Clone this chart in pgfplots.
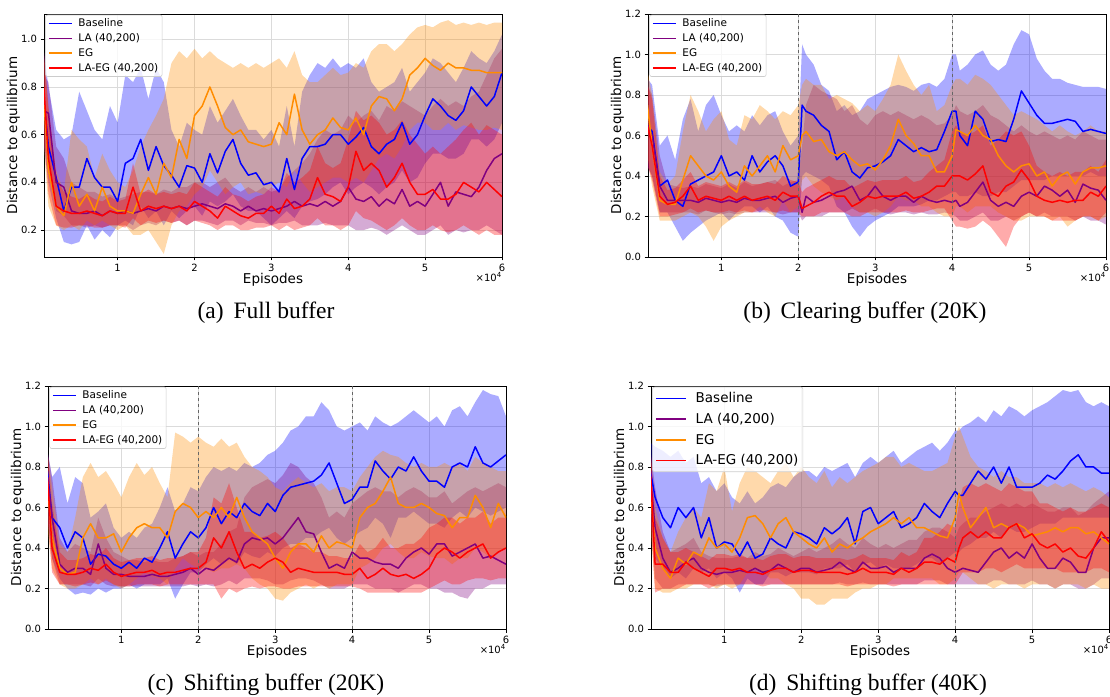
\documentclass[border=0pt]{standalone}
\usepackage{pgfplots}
\pgfplotsset{compat=1.18}
\usepackage{pgfplotstable}
\usepgfplotslibrary{fillbetween}
\usepackage{fontspec}
\setmainfont{DejaVu Sans}
\newfontfamily\capfont{Liberation Serif}
\definecolor{cB}{RGB}{0,0,255}
\definecolor{cL}{RGB}{128,0,128}
\definecolor{cE}{RGB}{255,140,0}
\definecolor{cR}{RGB}{255,0,0}

\pgfplotstableread{
x b bl bh l ll lh e el eh r rl rh
0.04 0.75 0.55 0.95 0.70 0.55 0.85 0.75 0.55 0.95 0.80 0.60 0.95
0.1 0.55 0.40 0.80 0.69 0.50 0.82 0.45 0.30 0.70 0.50 0.35 0.72
0.2 0.42 0.25 0.62 0.40 0.28 0.55 0.30 0.22 0.45 0.30 0.22 0.42
0.3 0.28 0.15 0.58 0.38 0.26 0.50 0.26 0.20 0.36 0.28 0.21 0.36
0.4 0.38 0.14 0.60 0.28 0.22 0.40 0.40 0.22 0.62 0.27 0.21 0.34
0.5 0.38 0.15 0.78 0.27 0.22 0.38 0.30 0.20 0.58 0.27 0.22 0.33
0.6 0.50 0.22 0.70 0.27 0.21 0.36 0.35 0.24 0.55 0.28 0.22 0.35
0.7 0.42 0.16 0.62 0.28 0.22 0.36 0.28 0.22 0.42 0.27 0.21 0.33
0.8 0.38 0.20 0.58 0.26 0.21 0.34 0.38 0.24 0.52 0.26 0.21 0.32
0.9 0.38 0.17 0.72 0.28 0.22 0.35 0.30 0.22 0.45 0.28 0.22 0.34
1.0 0.32 0.22 0.65 0.27 0.22 0.33 0.28 0.20 0.40 0.27 0.22 0.32
1.1 0.48 0.24 0.85 0.28 0.22 0.34 0.28 0.22 0.38 0.27 0.21 0.33
1.2 0.50 0.22 0.82 0.27 0.20 0.35 0.27 0.18 0.45 0.38 0.25 0.48
1.3 0.58 0.30 0.88 0.28 0.22 0.36 0.35 0.18 0.55 0.28 0.22 0.35
1.4 0.45 0.25 0.75 0.29 0.23 0.36 0.42 0.20 0.62 0.30 0.24 0.37
1.5 0.55 0.28 0.88 0.28 0.22 0.35 0.35 0.15 0.68 0.29 0.23 0.35
1.6 0.47 0.22 0.82 0.30 0.24 0.37 0.48 0.10 0.75 0.30 0.24 0.36
1.7 0.43 0.28 0.62 0.29 0.23 0.36 0.42 0.22 0.90 0.29 0.23 0.35
1.8 0.38 0.25 0.55 0.30 0.24 0.38 0.58 0.28 0.95 0.30 0.24 0.36
1.9 0.47 0.28 0.65 0.29 0.22 0.38 0.50 0.30 0.92 0.28 0.22 0.35
2.0 0.46 0.30 0.62 0.30 0.24 0.40 0.68 0.35 0.96 0.32 0.24 0.40
2.1 0.40 0.26 0.60 0.31 0.24 0.40 0.72 0.38 0.92 0.30 0.23 0.38
2.2 0.52 0.32 0.72 0.30 0.23 0.38 0.80 0.45 0.95 0.28 0.22 0.36
2.3 0.44 0.30 0.65 0.29 0.22 0.40 0.72 0.40 0.92 0.25 0.20 0.34
2.4 0.53 0.32 0.70 0.31 0.24 0.42 0.63 0.35 0.90 0.30 0.22 0.38
2.5 0.58 0.35 0.75 0.30 0.24 0.38 0.60 0.38 0.88 0.28 0.22 0.35
2.6 0.48 0.30 0.68 0.28 0.22 0.36 0.62 0.40 0.90 0.26 0.20 0.34
2.7 0.43 0.28 0.62 0.30 0.24 0.38 0.57 0.35 0.88 0.25 0.20 0.32
2.8 0.44 0.28 0.62 0.28 0.23 0.36 0.56 0.36 0.90 0.27 0.21 0.34
2.9 0.39 0.25 0.58 0.29 0.23 0.38 0.55 0.35 0.88 0.27 0.21 0.35
3.0 0.40 0.22 0.62 0.28 0.22 0.36 0.56 0.38 0.90 0.30 0.22 0.38
3.1 0.36 0.25 0.55 0.29 0.23 0.37 0.65 0.40 0.92 0.27 0.20 0.36
3.2 0.50 0.28 0.72 0.30 0.23 0.42 0.60 0.38 0.88 0.33 0.22 0.44
3.3 0.37 0.25 0.55 0.32 0.24 0.45 0.77 0.45 0.95 0.29 0.20 0.40
3.4 0.50 0.30 0.78 0.30 0.22 0.48 0.62 0.40 0.85 0.30 0.21 0.42
3.5 0.55 0.32 0.85 0.31 0.22 0.52 0.56 0.36 0.82 0.33 0.22 0.45
3.6 0.55 0.33 0.90 0.30 0.22 0.58 0.60 0.38 0.82 0.42 0.25 0.55
3.7 0.56 0.35 0.88 0.32 0.23 0.62 0.62 0.40 0.85 0.35 0.22 0.48
3.8 0.60 0.38 0.92 0.30 0.22 0.60 0.67 0.42 0.88 0.34 0.22 0.46
3.9 0.60 0.40 0.88 0.32 0.22 0.62 0.63 0.42 0.85 0.32 0.20 0.48
4.0 0.56 0.35 0.90 0.38 0.22 0.68 0.62 0.40 0.86 0.38 0.22 0.58
4.1 0.59 0.38 0.88 0.33 0.20 0.65 0.67 0.42 0.90 0.53 0.28 0.70
4.2 0.63 0.40 0.92 0.32 0.20 0.68 0.60 0.40 0.88 0.45 0.25 0.66
4.3 0.55 0.38 0.82 0.34 0.21 0.70 0.72 0.45 0.95 0.48 0.24 0.68
4.4 0.52 0.35 0.78 0.30 0.20 0.66 0.76 0.50 0.98 0.45 0.22 0.65
4.5 0.56 0.38 0.80 0.33 0.18 0.72 0.75 0.52 0.98 0.38 0.20 0.60
4.6 0.58 0.40 0.82 0.31 0.20 0.70 0.70 0.50 0.95 0.42 0.22 0.62
4.7 0.65 0.45 0.88 0.37 0.22 0.74 0.75 0.55 0.98 0.48 0.25 0.66
4.8 0.56 0.40 0.78 0.30 0.20 0.72 0.85 0.62 1.02 0.40 0.22 0.60
4.9 0.60 0.42 0.82 0.32 0.18 0.70 0.88 0.65 1.05 0.35 0.20 0.56
5.0 0.68 0.48 0.86 0.30 0.18 0.68 0.92 0.65 1.06 0.35 0.20 0.52
5.1 0.75 0.52 0.92 0.35 0.20 0.72 0.89 0.62 1.05 0.37 0.22 0.55
5.2 0.72 0.52 0.90 0.40 0.22 0.75 0.87 0.62 1.07 0.33 0.20 0.52
5.3 0.68 0.50 0.86 0.30 0.18 0.72 0.90 0.65 1.08 0.33 0.19 0.55
5.4 0.66 0.50 0.82 0.36 0.20 0.74 0.88 0.62 1.06 0.35 0.20 0.58
5.5 0.70 0.52 0.88 0.35 0.19 0.72 0.88 0.64 1.07 0.40 0.22 0.62
5.6 0.80 0.58 0.95 0.34 0.20 0.76 0.87 0.63 1.06 0.38 0.20 0.65
5.7 0.76 0.58 0.92 0.38 0.20 0.78 0.87 0.62 1.07 0.36 0.18 0.60
5.8 0.72 0.55 0.90 0.45 0.22 0.85 0.86 0.62 1.06 0.40 0.20 0.64
5.9 0.76 0.58 0.95 0.50 0.20 0.92 0.86 0.63 1.07 0.37 0.18 0.62
6.0 0.86 0.65 1.02 0.52 0.18 0.96 0.86 0.62 1.07 0.34 0.18 0.60
}\ta

\pgfplotstableread{
x b bl bh l ll lh e el eh r rl rh
0.04 0.65 0.45 0.88 0.65 0.45 0.85 0.75 0.50 0.92 0.65 0.45 0.85
0.1 0.62 0.40 0.85 0.60 0.40 0.80 0.55 0.35 0.80 0.55 0.38 0.78
0.2 0.35 0.22 0.55 0.35 0.22 0.50 0.28 0.18 0.42 0.30 0.20 0.40
0.3 0.38 0.22 0.60 0.28 0.22 0.36 0.26 0.18 0.36 0.26 0.20 0.33
0.4 0.28 0.15 0.48 0.28 0.22 0.35 0.26 0.18 0.40 0.27 0.21 0.34
0.5 0.25 0.08 0.68 0.28 0.22 0.34 0.38 0.20 0.62 0.30 0.22 0.38
0.6 0.36 0.12 0.78 0.28 0.22 0.35 0.50 0.22 0.80 0.35 0.24 0.42
0.7 0.38 0.15 0.62 0.27 0.21 0.34 0.45 0.20 0.72 0.28 0.22 0.35
0.8 0.40 0.18 0.75 0.29 0.23 0.36 0.40 0.15 0.62 0.30 0.23 0.37
0.9 0.42 0.20 0.80 0.28 0.22 0.35 0.38 0.08 0.68 0.29 0.22 0.36
1.0 0.50 0.22 0.70 0.27 0.21 0.34 0.42 0.15 0.72 0.28 0.22 0.35
1.1 0.40 0.18 0.62 0.28 0.22 0.36 0.35 0.18 0.58 0.30 0.23 0.37
1.2 0.42 0.22 0.65 0.27 0.21 0.34 0.32 0.20 0.55 0.28 0.22 0.35
1.3 0.38 0.25 0.62 0.29 0.22 0.37 0.45 0.22 0.70 0.30 0.23 0.38
1.4 0.50 0.25 0.70 0.28 0.22 0.35 0.40 0.22 0.68 0.28 0.22 0.36
1.5 0.42 0.22 0.65 0.28 0.22 0.36 0.45 0.25 0.75 0.29 0.23 0.36
1.6 0.47 0.25 0.70 0.29 0.22 0.37 0.50 0.22 0.72 0.30 0.23 0.37
1.7 0.50 0.20 0.72 0.30 0.22 0.38 0.42 0.20 0.68 0.28 0.22 0.36
1.8 0.45 0.18 0.62 0.27 0.21 0.35 0.55 0.28 0.72 0.32 0.23 0.40
1.9 0.35 0.12 0.55 0.29 0.22 0.37 0.48 0.22 0.70 0.30 0.22 0.38
2.0 0.37 0.10 0.60 0.30 0.22 0.38 0.50 0.25 0.75 0.30 0.22 0.37
2.05 0.75 0.40 1.05 0.22 0.18 0.55 0.60 0.38 0.85 0.24 0.20 0.32
2.1 0.72 0.42 1.00 0.30 0.20 0.75 0.62 0.40 0.88 0.25 0.20 0.34
2.2 0.70 0.40 0.95 0.27 0.20 0.85 0.57 0.35 0.85 0.27 0.20 0.36
2.3 0.65 0.38 0.85 0.28 0.20 0.82 0.58 0.32 0.85 0.30 0.22 0.38
2.4 0.62 0.35 0.82 0.30 0.22 0.80 0.52 0.30 0.78 0.32 0.22 0.40
2.5 0.48 0.25 0.72 0.32 0.22 0.78 0.50 0.28 0.80 0.30 0.22 0.38
2.6 0.52 0.22 0.75 0.33 0.22 0.72 0.52 0.30 0.78 0.30 0.22 0.38
2.7 0.42 0.15 0.70 0.35 0.24 0.75 0.48 0.25 0.76 0.25 0.20 0.34
2.8 0.39 0.10 0.72 0.28 0.22 0.68 0.45 0.22 0.72 0.27 0.20 0.36
2.9 0.44 0.15 0.78 0.30 0.22 0.65 0.46 0.22 0.75 0.30 0.22 0.38
3.0 0.45 0.18 0.80 0.35 0.24 0.70 0.43 0.20 0.72 0.29 0.22 0.37
3.1 0.47 0.20 0.82 0.30 0.22 0.72 0.48 0.22 0.78 0.30 0.22 0.38
3.2 0.50 0.22 0.84 0.28 0.21 0.70 0.55 0.25 0.85 0.30 0.22 0.38
3.3 0.58 0.25 0.85 0.30 0.22 0.72 0.68 0.30 1.00 0.30 0.22 0.38
3.4 0.55 0.25 0.84 0.30 0.22 0.70 0.60 0.28 0.92 0.32 0.23 0.40
3.5 0.52 0.25 0.82 0.27 0.21 0.68 0.56 0.28 0.85 0.29 0.22 0.37
3.6 0.54 0.26 0.85 0.30 0.22 0.70 0.50 0.25 0.80 0.30 0.22 0.38
3.7 0.52 0.28 0.86 0.28 0.21 0.68 0.50 0.25 0.85 0.32 0.23 0.42
3.8 0.53 0.28 0.84 0.27 0.21 0.65 0.42 0.22 0.72 0.35 0.24 0.45
3.9 0.62 0.30 0.88 0.28 0.22 0.66 0.42 0.20 0.75 0.35 0.24 0.48
4.0 0.72 0.32 1.00 0.27 0.21 0.70 0.50 0.20 0.85 0.40 0.18 0.62
4.05 0.72 0.32 1.00 0.28 0.20 0.75 0.63 0.25 0.88 0.40 0.15 0.65
4.1 0.60 0.30 0.92 0.25 0.18 0.72 0.62 0.25 0.88 0.40 0.15 0.62
4.2 0.55 0.30 0.95 0.27 0.18 0.70 0.60 0.22 0.85 0.38 0.14 0.60
4.3 0.72 0.32 1.00 0.32 0.20 0.72 0.65 0.25 0.90 0.41 0.15 0.62
4.4 0.68 0.30 1.02 0.37 0.22 0.75 0.60 0.25 0.88 0.45 0.18 0.65
4.5 0.57 0.30 0.95 0.28 0.18 0.70 0.58 0.25 0.85 0.32 0.15 0.55
4.6 0.58 0.32 0.92 0.25 0.18 0.68 0.50 0.22 0.80 0.30 0.10 0.58
4.7 0.57 0.32 0.95 0.27 0.20 0.65 0.45 0.20 0.75 0.35 0.05 0.62
4.8 0.68 0.35 1.05 0.25 0.18 0.62 0.42 0.18 0.70 0.37 0.15 0.60
4.9 0.82 0.38 1.12 0.30 0.20 0.65 0.45 0.18 0.72 0.43 0.20 0.62
5.0 0.76 0.38 1.10 0.32 0.22 0.62 0.46 0.20 0.70 0.38 0.22 0.55
5.1 0.70 0.38 0.98 0.30 0.20 0.60 0.40 0.20 0.68 0.30 0.20 0.45
5.2 0.66 0.38 0.92 0.35 0.22 0.62 0.42 0.20 0.65 0.28 0.20 0.42
5.3 0.66 0.40 0.88 0.33 0.20 0.60 0.35 0.18 0.62 0.27 0.18 0.40
5.4 0.67 0.40 0.88 0.30 0.20 0.58 0.40 0.20 0.65 0.28 0.18 0.42
5.5 0.68 0.40 0.86 0.33 0.20 0.60 0.42 0.15 0.62 0.27 0.18 0.40
5.6 0.67 0.40 0.85 0.27 0.18 0.58 0.36 0.18 0.60 0.28 0.18 0.42
5.7 0.62 0.40 0.84 0.36 0.20 0.62 0.42 0.20 0.62 0.28 0.20 0.42
5.8 0.63 0.42 0.84 0.34 0.18 0.60 0.44 0.20 0.65 0.32 0.20 0.45
5.9 0.62 0.40 0.84 0.33 0.18 0.58 0.44 0.18 0.62 0.30 0.18 0.42
6.0 0.61 0.40 0.83 0.28 0.16 0.58 0.45 0.20 0.62 0.35 0.22 0.48
}\tb

\pgfplotstableread{
x b bl bh l ll lh e el eh r rl rh
0.04 0.78 0.55 0.88 0.75 0.55 0.88 0.70 0.50 0.88 0.75 0.55 0.88
0.1 0.55 0.35 0.75 0.55 0.35 0.75 0.45 0.30 0.70 0.40 0.28 0.62
0.2 0.50 0.25 0.80 0.32 0.22 0.45 0.30 0.22 0.42 0.28 0.22 0.38
0.3 0.40 0.20 0.62 0.28 0.22 0.38 0.27 0.20 0.38 0.27 0.22 0.34
0.4 0.48 0.17 0.75 0.30 0.22 0.42 0.28 0.20 0.55 0.27 0.21 0.34
0.5 0.45 0.18 0.72 0.30 0.22 0.40 0.45 0.22 0.75 0.28 0.22 0.35
0.6 0.32 0.17 0.55 0.27 0.21 0.38 0.52 0.25 0.82 0.30 0.23 0.37
0.7 0.37 0.20 0.58 0.42 0.25 0.55 0.45 0.22 0.75 0.29 0.22 0.36
0.8 0.36 0.18 0.62 0.30 0.22 0.45 0.45 0.25 0.78 0.32 0.24 0.40
0.9 0.32 0.20 0.50 0.27 0.21 0.38 0.47 0.22 0.72 0.28 0.22 0.35
1.0 0.30 0.20 0.45 0.27 0.21 0.36 0.38 0.20 0.65 0.26 0.21 0.33
1.1 0.33 0.22 0.48 0.26 0.21 0.34 0.45 0.22 0.75 0.27 0.21 0.34
1.2 0.30 0.20 0.45 0.26 0.21 0.34 0.50 0.25 0.82 0.28 0.22 0.35
1.3 0.35 0.22 0.50 0.26 0.21 0.33 0.52 0.28 0.76 0.28 0.22 0.35
1.4 0.33 0.22 0.52 0.27 0.21 0.34 0.50 0.26 0.80 0.29 0.22 0.36
1.5 0.40 0.22 0.60 0.26 0.21 0.33 0.50 0.25 0.72 0.27 0.21 0.34
1.6 0.48 0.25 0.70 0.26 0.21 0.33 0.45 0.22 0.65 0.28 0.22 0.35
1.7 0.35 0.15 0.58 0.27 0.21 0.35 0.58 0.30 0.97 0.28 0.22 0.35
1.8 0.42 0.22 0.62 0.28 0.21 0.36 0.62 0.35 0.95 0.29 0.22 0.36
1.9 0.48 0.28 0.70 0.30 0.22 0.38 0.60 0.32 0.92 0.30 0.22 0.38
2.0 0.45 0.28 0.68 0.27 0.21 0.36 0.55 0.30 0.95 0.30 0.22 0.38
2.1 0.50 0.32 0.75 0.30 0.22 0.38 0.58 0.30 0.92 0.33 0.22 0.45
2.2 0.60 0.35 0.80 0.29 0.21 0.38 0.55 0.28 0.90 0.45 0.22 0.65
2.3 0.52 0.32 0.78 0.32 0.22 0.42 0.60 0.30 0.94 0.40 0.15 0.62
2.4 0.58 0.35 0.80 0.35 0.24 0.48 0.55 0.30 0.90 0.48 0.20 0.72
2.5 0.55 0.32 0.78 0.33 0.22 0.50 0.65 0.32 0.92 0.38 0.18 0.60
2.6 0.62 0.38 0.82 0.42 0.25 0.65 0.55 0.30 0.85 0.30 0.20 0.48
2.7 0.58 0.36 0.80 0.45 0.25 0.70 0.48 0.25 0.80 0.32 0.21 0.48
2.8 0.56 0.35 0.82 0.44 0.25 0.72 0.45 0.22 0.78 0.30 0.20 0.45
2.9 0.62 0.38 0.86 0.45 0.24 0.74 0.42 0.20 0.75 0.33 0.21 0.46
3.0 0.58 0.36 0.88 0.42 0.22 0.72 0.35 0.15 0.70 0.35 0.21 0.48
3.1 0.66 0.40 0.92 0.45 0.22 0.76 0.30 0.14 0.68 0.33 0.20 0.45
3.2 0.70 0.42 0.98 0.50 0.24 0.82 0.38 0.18 0.72 0.28 0.20 0.40
3.3 0.71 0.42 1.00 0.55 0.25 0.80 0.42 0.20 0.75 0.30 0.21 0.42
3.4 0.72 0.45 1.05 0.48 0.25 0.75 0.42 0.22 0.72 0.29 0.21 0.40
3.5 0.73 0.45 1.05 0.47 0.24 0.72 0.38 0.20 0.70 0.28 0.21 0.38
3.6 0.76 0.48 1.12 0.38 0.22 0.65 0.46 0.22 0.72 0.28 0.21 0.38
3.7 0.82 0.50 1.08 0.30 0.20 0.55 0.40 0.20 0.68 0.28 0.21 0.36
3.8 0.72 0.45 1.00 0.32 0.20 0.58 0.43 0.22 0.70 0.28 0.21 0.36
3.9 0.62 0.42 0.98 0.30 0.20 0.55 0.42 0.22 0.70 0.27 0.21 0.35
4.0 0.64 0.45 1.00 0.38 0.22 0.62 0.40 0.22 0.68 0.27 0.21 0.35
4.1 0.70 0.48 1.02 0.35 0.22 0.65 0.55 0.30 0.75 0.30 0.20 0.42
4.2 0.70 0.50 0.98 0.35 0.22 0.68 0.60 0.32 0.80 0.25 0.18 0.38
4.3 0.83 0.55 1.05 0.33 0.20 0.70 0.62 0.35 0.85 0.27 0.18 0.40
4.4 0.78 0.52 1.02 0.32 0.20 0.68 0.68 0.40 0.88 0.30 0.18 0.45
4.5 0.74 0.45 1.00 0.32 0.20 0.68 0.75 0.42 0.86 0.27 0.18 0.40
4.6 0.80 0.55 1.02 0.30 0.18 0.65 0.62 0.38 0.85 0.26 0.18 0.40
4.7 0.78 0.55 1.05 0.35 0.20 0.68 0.60 0.35 0.82 0.27 0.18 0.42
4.8 0.85 0.58 1.08 0.38 0.22 0.70 0.60 0.35 0.80 0.25 0.18 0.42
4.9 0.78 0.55 1.05 0.40 0.22 0.68 0.62 0.38 0.82 0.27 0.18 0.45
5.0 0.73 0.52 1.02 0.37 0.20 0.65 0.60 0.36 0.80 0.30 0.20 0.50
5.1 0.73 0.52 1.05 0.42 0.20 0.65 0.57 0.35 0.80 0.37 0.22 0.52
5.2 0.70 0.50 1.00 0.42 0.18 0.68 0.56 0.35 0.82 0.40 0.24 0.55
5.3 0.80 0.55 1.08 0.36 0.18 0.62 0.50 0.32 0.80 0.38 0.22 0.55
5.4 0.82 0.58 1.10 0.38 0.16 0.65 0.55 0.35 0.82 0.35 0.22 0.52
5.5 0.80 0.55 1.05 0.40 0.15 0.68 0.55 0.35 0.78 0.38 0.24 0.55
5.6 0.90 0.60 1.12 0.42 0.20 0.70 0.66 0.40 0.85 0.40 0.25 0.55
5.7 0.82 0.58 1.18 0.35 0.20 0.68 0.60 0.38 0.82 0.42 0.25 0.58
5.8 0.80 0.56 1.16 0.36 0.22 0.70 0.50 0.35 0.80 0.35 0.24 0.52
5.9 0.83 0.58 1.15 0.34 0.22 0.72 0.62 0.38 0.78 0.38 0.25 0.55
6.0 0.86 0.60 1.05 0.32 0.22 0.70 0.55 0.40 0.78 0.40 0.25 0.55
}\tc

\pgfplotstableread{
x b bl bh l ll lh e el eh r rl rh
0.04 0.78 0.55 0.92 0.75 0.55 0.88 0.70 0.50 0.88 0.78 0.55 0.90
0.1 0.65 0.35 0.90 0.50 0.25 0.70 0.40 0.20 0.60 0.32 0.18 0.55
0.2 0.55 0.30 0.88 0.35 0.20 0.48 0.30 0.18 0.45 0.32 0.20 0.45
0.3 0.50 0.25 0.85 0.28 0.20 0.38 0.25 0.18 0.38 0.28 0.20 0.38
0.4 0.60 0.28 0.88 0.30 0.22 0.40 0.35 0.20 0.48 0.28 0.20 0.38
0.5 0.55 0.25 0.82 0.33 0.22 0.42 0.32 0.20 0.55 0.33 0.22 0.40
0.6 0.60 0.30 0.85 0.35 0.22 0.45 0.38 0.22 0.60 0.30 0.22 0.38
0.7 0.45 0.28 0.72 0.30 0.22 0.38 0.36 0.22 0.55 0.28 0.22 0.36
0.8 0.55 0.30 0.75 0.28 0.22 0.36 0.45 0.22 0.72 0.26 0.20 0.34
0.9 0.40 0.25 0.68 0.27 0.21 0.35 0.40 0.20 0.68 0.30 0.22 0.37
1.0 0.43 0.28 0.72 0.28 0.22 0.35 0.42 0.22 0.80 0.30 0.22 0.37
1.1 0.42 0.25 0.65 0.28 0.22 0.35 0.38 0.20 0.58 0.29 0.22 0.36
1.2 0.36 0.18 0.62 0.29 0.22 0.36 0.45 0.22 0.72 0.30 0.22 0.37
1.3 0.43 0.25 0.68 0.28 0.22 0.35 0.55 0.28 0.80 0.28 0.22 0.35
1.4 0.35 0.22 0.62 0.30 0.22 0.38 0.56 0.30 0.78 0.28 0.22 0.35
1.5 0.37 0.22 0.65 0.28 0.22 0.36 0.52 0.28 0.75 0.27 0.21 0.34
1.6 0.45 0.28 0.70 0.29 0.22 0.37 0.45 0.25 0.72 0.29 0.22 0.36
1.7 0.42 0.28 0.72 0.32 0.22 0.40 0.52 0.25 0.78 0.30 0.22 0.37
1.8 0.40 0.26 0.70 0.30 0.22 0.38 0.55 0.22 0.82 0.30 0.22 0.37
1.9 0.48 0.28 0.75 0.28 0.22 0.36 0.48 0.20 0.75 0.28 0.22 0.35
2.0 0.47 0.28 0.78 0.30 0.22 0.38 0.45 0.15 0.80 0.29 0.22 0.36
2.1 0.45 0.28 0.78 0.30 0.22 0.40 0.42 0.15 0.75 0.29 0.22 0.36
2.2 0.42 0.27 0.75 0.28 0.22 0.38 0.40 0.12 0.72 0.28 0.22 0.35
2.3 0.50 0.30 0.80 0.29 0.22 0.40 0.45 0.12 0.78 0.28 0.22 0.35
2.4 0.47 0.30 0.78 0.30 0.22 0.42 0.38 0.15 0.70 0.28 0.22 0.35
2.5 0.50 0.30 0.80 0.33 0.23 0.45 0.42 0.15 0.75 0.28 0.22 0.35
2.6 0.55 0.32 0.82 0.30 0.22 0.42 0.40 0.15 0.72 0.27 0.21 0.34
2.7 0.42 0.28 0.75 0.28 0.22 0.40 0.43 0.18 0.75 0.28 0.22 0.35
2.8 0.58 0.32 0.82 0.33 0.23 0.45 0.45 0.20 0.78 0.30 0.22 0.37
2.9 0.60 0.33 0.85 0.30 0.22 0.42 0.48 0.20 0.80 0.28 0.22 0.35
3.0 0.52 0.30 0.82 0.30 0.22 0.40 0.50 0.22 0.82 0.28 0.22 0.35
3.1 0.55 0.32 0.85 0.31 0.22 0.42 0.52 0.22 0.85 0.28 0.22 0.35
3.2 0.58 0.30 0.88 0.28 0.22 0.40 0.55 0.25 0.85 0.27 0.21 0.34
3.3 0.50 0.30 0.82 0.30 0.22 0.42 0.52 0.25 0.80 0.30 0.22 0.38
3.4 0.52 0.30 0.85 0.30 0.22 0.44 0.55 0.25 0.82 0.28 0.22 0.36
3.5 0.55 0.32 0.88 0.30 0.22 0.44 0.50 0.25 0.80 0.30 0.22 0.38
3.6 0.62 0.35 0.90 0.35 0.24 0.48 0.50 0.25 0.78 0.33 0.22 0.45
3.7 0.58 0.35 0.92 0.37 0.24 0.50 0.48 0.25 0.78 0.33 0.22 0.45
3.8 0.55 0.32 0.88 0.35 0.24 0.50 0.46 0.22 0.80 0.32 0.22 0.48
3.9 0.62 0.35 0.92 0.30 0.22 0.48 0.45 0.22 0.82 0.35 0.22 0.52
4.0 0.68 0.38 0.98 0.28 0.22 0.45 0.55 0.25 0.95 0.33 0.22 0.50
4.05 0.66 0.38 0.98 0.29 0.22 0.50 0.67 0.28 1.00 0.40 0.25 0.62
4.1 0.66 0.40 1.00 0.30 0.22 0.52 0.60 0.28 0.95 0.45 0.28 0.70
4.2 0.72 0.42 1.02 0.29 0.22 0.55 0.50 0.25 0.85 0.48 0.28 0.72
4.3 0.78 0.45 1.05 0.28 0.22 0.55 0.55 0.22 0.80 0.45 0.28 0.70
4.4 0.74 0.45 1.02 0.33 0.22 0.58 0.60 0.22 0.78 0.48 0.30 0.72
4.5 0.80 0.48 1.08 0.38 0.24 0.60 0.50 0.20 0.75 0.45 0.30 0.70
4.6 0.72 0.45 1.05 0.40 0.24 0.62 0.52 0.22 0.78 0.45 0.28 0.68
4.7 0.80 0.50 1.10 0.35 0.22 0.60 0.50 0.22 0.75 0.50 0.30 0.72
4.8 0.70 0.48 1.08 0.38 0.22 0.62 0.52 0.22 0.75 0.52 0.32 0.70
4.9 0.70 0.48 1.05 0.35 0.22 0.60 0.50 0.20 0.72 0.45 0.30 0.68
5.0 0.70 0.50 1.08 0.42 0.24 0.62 0.46 0.22 0.72 0.47 0.30 0.68
5.1 0.72 0.52 1.10 0.35 0.22 0.60 0.47 0.22 0.72 0.42 0.30 0.62
5.2 0.76 0.52 1.12 0.30 0.22 0.58 0.48 0.22 0.70 0.40 0.30 0.62
5.3 0.74 0.52 1.15 0.30 0.20 0.58 0.50 0.20 0.72 0.42 0.30 0.60
5.4 0.78 0.55 1.18 0.35 0.22 0.60 0.48 0.22 0.70 0.38 0.28 0.58
5.5 0.83 0.55 1.17 0.33 0.22 0.60 0.50 0.22 0.72 0.40 0.28 0.60
5.6 0.86 0.55 1.18 0.28 0.20 0.56 0.50 0.22 0.70 0.36 0.28 0.58
5.7 0.80 0.55 1.12 0.28 0.20 0.58 0.47 0.20 0.68 0.35 0.28 0.58
5.8 0.80 0.55 1.10 0.40 0.22 0.62 0.48 0.22 0.70 0.40 0.30 0.60
5.9 0.77 0.55 1.12 0.45 0.25 0.65 0.45 0.20 0.68 0.48 0.30 0.62
6.0 0.77 0.55 1.10 0.45 0.25 0.68 0.42 0.20 0.65 0.43 0.28 0.60
}\td

\newcommand{\series}[4]{%
  \addplot[#3, line width=1.5pt, line join=round] table[x=x,y=#2]{#1};
  \addplot[draw=none, forget plot, name path=#4h] table[x=x,y=#2h]{#1};
  \addplot[draw=none, forget plot, name path=#4l] table[x=x,y=#2l]{#1};
  \addplot[fill=#3, fill opacity=0.33, draw=none, forget plot] fill between[of=#4h and #4l];
}
\newcommand{\allseries}[2]{%
  \series{#1}{b}{cB}{#2B}
  \series{#1}{l}{cL}{#2L}
  \series{#1}{e}{cE}{#2E}
  \series{#1}{r}{cR}{#2R}
}

\pgfplotsset{
  myax/.style={
    scale only axis, width=458pt, height=243pt,
    xmin=0.047, xmax=6, ymin=0, ymax=1.2,
    xtick={1,2,3,4,5,6}, ytick={0,0.2,0.4,0.6,0.8,1.0,1.2},
    grid=major, major grid style={black!14, line width=0.6pt},
    axis line style={black, line width=0.8pt},
    tick align=outside, tick pos=left, major tick length=3.5pt,
    tick style={black, line width=0.6pt},
    /pgf/number format/assume math mode=true,
    tick label style={font=\fontsize{10}{12}\selectfont},
    yticklabel style={/pgf/number format/.cd, fixed, fixed zerofill, precision=1},
    xticklabel style={/pgf/number format/.cd, fixed, precision=0},
    xlabel={Episodes}, ylabel={Distance to equilibrium},
    label style={font=\fontsize{13.5}{16}\selectfont},
    xlabel style={at={(axis description cs:0.5,-0.093)}, anchor=center},
    ylabel style={at={(axis description cs:-0.067,0.5)}, anchor=center},
    legend entries={Baseline,{LA (40,200)},EG,{LA-EG (40,200)}},
    legend cell align=left,
  },
  legsmall/.style={
    legend image code/.code={\draw[##1] (0pt,0pt) -- (23pt,0pt);},
    legend style={at={(0.003,0.997)}, anchor=north west, draw=black!20, line width=0.6pt,
      fill=white, fill opacity=0.8, text opacity=1, draw opacity=1, rounded corners=2pt,
      font=\fontsize{10.5}{12.5}\selectfont, inner xsep=2.5pt, inner ysep=2.5pt,
      nodes={inner sep=1.3pt}, row sep=2.8pt,
      /tikz/every odd column/.append style={column sep=4.5pt}},
  },
  legbig/.style={
    legend image code/.code={\draw[##1] (0pt,0pt) -- (30pt,0pt);},
    legend style={at={(0.003,0.997)}, anchor=north west, draw=black!20, line width=0.6pt,
      fill=white, fill opacity=0.8, text opacity=1, draw opacity=1, rounded corners=2pt,
      font=\fontsize{13.5}{16}\selectfont, inner xsep=3pt, inner ysep=4pt,
      nodes={inner sep=1.5pt}, row sep=6pt,
      /tikz/every odd column/.append style={column sep=7pt}},
  },
}

\begin{document}
\begin{tikzpicture}

% (a)
\begin{axis}[myax, legsmall, name=A, at={(44pt,439pt)}, anchor=south west,
  xmin=0.042, ymin=0.087, ymax=1.106, ytick={0.2,0.4,0.6,0.8,1.0}]
  \allseries{\ta}{a}
\end{axis}
\node[anchor=east, inner sep=0pt, font=\fontsize{10}{12}\selectfont] at ([yshift=-20pt]A.south east) {×10\textsuperscript{4}};

% (b)
\begin{axis}[myax, legsmall, name=Bx, at={(648pt,439pt)}, anchor=south west]
  \allseries{\tb}{b}
  \addplot[forget plot, dashed, black!60, line width=0.7pt] coordinates {(2,0) (2,1.2)};
  \addplot[forget plot, dashed, black!60, line width=0.7pt] coordinates {(4,0) (4,1.2)};
\end{axis}
\node[anchor=east, inner sep=0pt, font=\fontsize{10}{12}\selectfont] at ([yshift=-20pt]Bx.south east) {×10\textsuperscript{4}};

% (c)
\begin{axis}[myax, legsmall, name=C, at={(48pt,67pt)}, anchor=south west]
  \allseries{\tc}{c}
  \addplot[forget plot, dashed, black!60, line width=0.7pt] coordinates {(2,0) (2,1.2)};
  \addplot[forget plot, dashed, black!60, line width=0.7pt] coordinates {(4,0) (4,1.2)};
\end{axis}
\node[anchor=east, inner sep=0pt, font=\fontsize{10}{12}\selectfont] at ([yshift=-20pt]C.south east) {×10\textsuperscript{4}};

% (d)
\begin{axis}[myax, legbig, name=D, at={(651pt,67pt)}, anchor=south west]
  \allseries{\td}{d}
  \addplot[forget plot, dashed, black!60, line width=0.7pt] coordinates {(4,0) (4,1.2)};
\end{axis}
\node[anchor=east, inner sep=0pt, font=\fontsize{10}{12}\selectfont] at ([yshift=-20pt]D.south east) {×10\textsuperscript{4}};

% captions
\node[anchor=base, font=\capfont\fontsize{23.5}{28}\selectfont] at (266pt,377.7pt) {(a)\hspace{0.42em}Full buffer};
\node[anchor=base, font=\capfont\fontsize{23.5}{28}\selectfont] at (865pt,377.7pt) {(b)\hspace{0.42em}Clearing buffer (20K)};
\node[anchor=base, font=\capfont\fontsize{23.5}{28}\selectfont] at (266pt,5.3pt) {(c)\hspace{0.42em}Shifting buffer (20K)};
\node[anchor=base, font=\capfont\fontsize{23.5}{28}\selectfont] at (868pt,5.3pt) {(d)\hspace{0.42em}Shifting buffer (40K)};

\pgfresetboundingbox
\path[use as bounding box] (0,0) rectangle (1110pt,696pt);
\end{tikzpicture}
\end{document}
